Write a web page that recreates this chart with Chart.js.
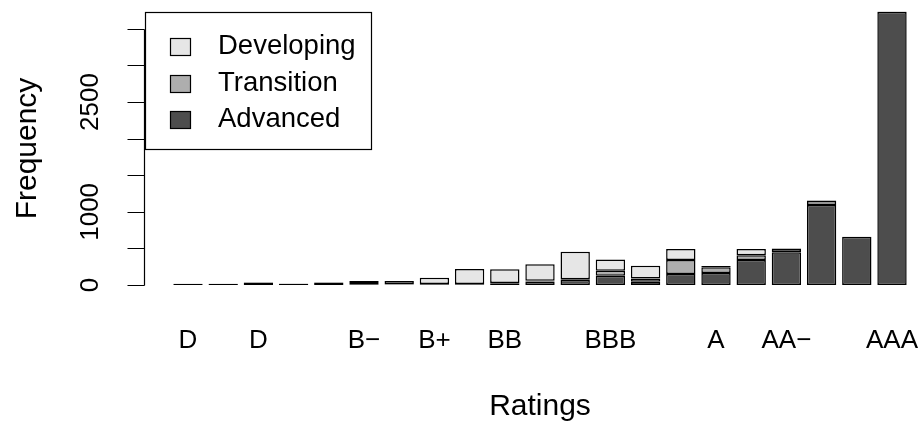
<!DOCTYPE html>
<html>
<head>
<meta charset="utf-8">
<script src="https://cdn.jsdelivr.net/npm/chart.js@4"></script>
<style>
html,body{margin:0;padding:0;background:#fff;overflow:hidden;}
#wrap{width:922px;height:423px;overflow:hidden;}
canvas{display:block;}
</style>
</head>
<body>
<div id="wrap"><canvas id="c" width="940" height="423"></canvas></div>
<script>
// ---- data ----
const categories = ["D","C","D","CCC","CCC+","B−","B","B+","BB−","BB","BB+","BBB−","BBB","BBB+","A−","A","A+","AA−","AA","AA+","AAA"];
const tickLabels = ["D","","D","","","B−","","B+","","BB","","","BBB","","","A","","AA−","","","AAA"];
const advanced   = [18, 18, 30, 15, 30, 10, 8, 10, 10, 25, 50, 70, 127, 45, 150, 165, 342, 447, 1093, 660, 3730];
const transition = [0, 0, 5, 3, 5, 5, 5, 5, 5, 5, 10, 10, 68, 46, 191, 80, 64, 45, 55, 0, 3];
const developing = [0, 0, 5, 3, 5, 40, 42, 85, 205, 185, 223, 375, 156, 172, 151, 15, 87, 8, 8, 0, 2];
const yTickValues = [0, 500, 1000, 1500, 2000, 2500, 3000, 3500];
const yTickLabels = ["0", "", "1000", "", "", "2500", "", ""];
const seriesNames = ["Developing", "Transition", "Advanced"];
const seriesColors = {Developing: "#E6E6E6", Transition: "#AEAEAE", Advanced: "#4D4D4D"};

const FAMILY = '"Liberation Sans", Arial, sans-serif';
const TICK_FONT = '26px ' + FAMILY;
const TITLE_FONT = '30px ' + FAMILY;
const LEGEND_FONT = '27.5px ' + FAMILY;

function pts(arr){ return arr.map((v,i)=>({x:i, y:v})); }

const datasets = [
  {label:"Advanced", data:pts(advanced)},
  {label:"Transition", data:pts(transition)},
  {label:"Developing", data:pts(developing)}
].map(d => Object.assign(d, {
  backgroundColor: seriesColors[d.label],
  borderColor: "#000",
  borderWidth: 1.5,
  borderSkipped: false,
  barPercentage: 0.834,
  categoryPercentage: 1,
  clip: false
}));

function txt(ctx, s, x, y, font, rot, align){
  ctx.save();
  ctx.translate(x, y);
  if (rot) ctx.rotate(-Math.PI/2);
  ctx.font = font;
  ctx.fillStyle = "#000";
  ctx.textAlign = align || "center";
  ctx.textBaseline = "middle";
  ctx.fillText(s, 0, 0);
  ctx.restore();
}

const rPlot = {
  id: "rPlot",
  afterDraw(chart){
    const ctx = chart.ctx, ca = chart.chartArea;
    const xs = chart.scales.x, ys = chart.scales.y;
    ctx.save();
    ctx.strokeStyle = "#000";
    ctx.lineWidth = 1.2;
    // y axis
    const ax = Math.round(ca.left) + 0.5;
    const y0 = ys.getPixelForValue(yTickValues[0]);
    const y1 = ys.getPixelForValue(yTickValues[yTickValues.length-1]);
    ctx.beginPath();
    ctx.moveTo(ax, Math.round(y0)+0.5); ctx.lineTo(ax, Math.round(y1)+0.5);
    yTickValues.forEach(v => {
      const py = Math.round(ys.getPixelForValue(v)) + 0.5;
      ctx.moveTo(ax, py); ctx.lineTo(ax - 17, py);
    });
    ctx.stroke();
    yTickValues.forEach((v, i) => {
      if (yTickLabels[i]) txt(ctx, yTickLabels[i], ca.left - 53, ys.getPixelForValue(v), TICK_FONT, true);
    });
    // y title
    txt(ctx, "Frequency", 28, (ca.top + ca.bottom) / 2, TITLE_FONT, true);
    // x labels
    tickLabels.forEach((l, i) => {
      if (l) txt(ctx, l, xs.getPixelForValue(i), ca.bottom + 45, TICK_FONT, false);
    });
    // x title
    txt(ctx, "Ratings", (ca.left + ca.right) / 2, ca.bottom + 111, TITLE_FONT, false);
    // legend
    const lx = ca.left + 1, ly = ca.top + 10.6, lw = 226, lh = 137;
    ctx.fillStyle = "#fff";
    ctx.fillRect(Math.round(lx)+0.5, Math.round(ly)+0.5, lw, lh);
    ctx.strokeRect(Math.round(lx)+0.5, Math.round(ly)+0.5, lw, lh);
    seriesNames.forEach((n, i) => {
      const cy = ly + 35 + i * 36.5;
      ctx.fillStyle = seriesColors[n];
      ctx.fillRect(lx + 25.5, Math.round(cy - 8.5) + 0.5, 20, 17);
      ctx.strokeRect(lx + 25.5, Math.round(cy - 8.5) + 0.5, 20, 17);
      txt(ctx, n, lx + 73, cy, LEGEND_FONT, false, "left");
    });
    ctx.restore();
  }
};

new Chart(document.getElementById("c"), {
  type: "bar",
  data: { labels: categories, datasets: datasets },
  options: {
    responsive: false,
    animation: false,
    devicePixelRatio: 1,
    layout: { padding: { left: 144, right: 4, top: 1, bottom: 127 } },
    plugins: { legend: { display: false }, tooltip: { enabled: false } },
    scales: {
      x: { type: "linear", min: -1.25, max: 21.25, offset: false, stacked: true, display: false },
      y: { min: -149, max: 3879, stacked: true, display: false }
    }
  },
  plugins: [rPlot]
});
</script>
</body>
</html>
